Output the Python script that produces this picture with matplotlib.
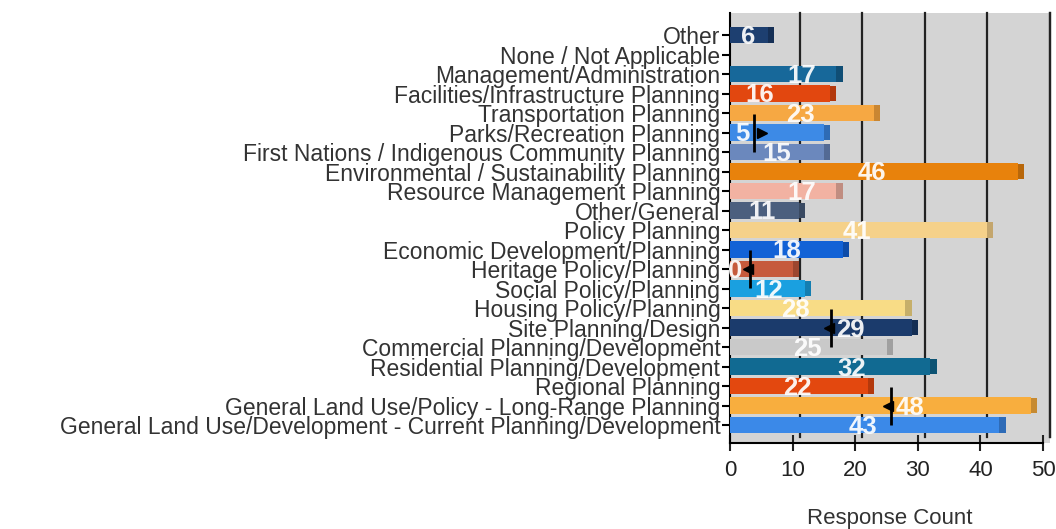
import matplotlib.pyplot as plt
import matplotlib.transforms as mtransforms

plt.rcParams["font.family"] = ["Liberation Sans", "DejaVu Sans"]

# top to bottom as in the picture
categories = [
    "Other",
    "None / Not Applicable",
    "Management/Administration",
    "Facilities/Infrastructure Planning",
    "Transportation Planning",
    "Parks/Recreation Planning",
    "First Nations / Indigenous Community Planning",
    "Environmental / Sustainability Planning",
    "Resource Management Planning",
    "Other/General",
    "Policy Planning",
    "Economic Development/Planning",
    "Heritage Policy/Planning",
    "Social Policy/Planning",
    "Housing Policy/Planning",
    "Site Planning/Design",
    "Commercial Planning/Development",
    "Residential Planning/Development",
    "Regional Planning",
    "General Land Use/Policy - Long-Range Planning",
    "General Land Use/Development - Current Planning/Development",
]
counts = [6, 0, 17, 16, 23, 15, 15, 46, 17, 11, 41, 18, 10, 12, 28, 29, 25, 32, 22, 48, 43]
# labels as they show up (the leading "1" of 15 and 10 is hidden behind the axis)
shown_labels = ["6", "", "17", "16", "23", "5", "15", "46", "17", "11", "41", "18",
                "0", "12", "28", "29", "25", "32", "22", "48", "43"]
label_x = [2.9, 0, 11.5, 4.8, 11.2, 1.9, 7.5, 22.7, 11.5, 5.1, 20.3, 9.1,
           0.8, 6.1, 10.4, 19.2, 12.3, 19.5, 10.7, 28.7, 21.3]
colors = ["#1d3f70", "#1d3f70", "#17689a", "#e2470f", "#f6a843", "#3d8ae6",
          "#6b88bd", "#e8820c", "#f2b2a2", "#4b5f7e", "#f5d18a", "#1262d6",
          "#c65a3c", "#1aa0e0", "#f8dc86", "#1b3b6c", "#c9c9c9", "#116a92",
          "#e3480f", "#f8ae3e", "#3b89e8"]
caps = ["#152f55", "#152f55", "#104e75", "#b2380c", "#c98632", "#2e6bb5",
        "#536a94", "#b8670a", "#c08d81", "#3a4a62", "#c4a66d", "#0e4ca8",
        "#9c462f", "#147eb1", "#c6af6a", "#142e54", "#a0a0a0", "#0d5373",
        "#b3390c", "#c68a31", "#2e6bb7"]

# error markers: (row, x, arrow direction)
markers = [("Parks/Recreation Planning", 3.9, ">"),
           ("Heritage Policy/Planning", 3.2, "<"),
           ("Site Planning/Design", 16.2, "<"),
           ("General Land Use/Policy - Long-Range Planning", 25.7, "<")]

n = len(categories)
ypos = [n - 1 - i for i in range(n)]

fig = plt.figure(figsize=(10.56, 5.29), dpi=100)
ax = fig.add_axes([730 / 1056, 1 - 443 / 529, 320 / 1056, 430 / 529])
ax.set_facecolor("#d4d4d4")
ax.set_xlim(0, 51.1)
ax.set_ylim(-0.92, n - 1 + 1.13)

# back-wall gridlines, shifted for the 3D look
shift = mtransforms.offset_copy(ax.transData, fig=fig, x=7, y=0, units="dots")
for gx in [10, 20, 30, 40, 50]:
    ax.plot([gx, gx], [-0.6, n - 1 + 1.13], color="#222222", lw=1.6,
            transform=shift, zorder=1, clip_on=False)

ax.barh(ypos, counts, height=0.86, color=colors, zorder=3)
ax.barh(ypos, [1.0 if c > 0 else 0 for c in counts], left=counts, height=0.78,
        color=caps, zorder=3)

for y, lab, lx in zip(ypos, shown_labels, label_x):
    if lab:
        ax.text(lx, y - 0.1, lab, color="white", fontsize=18.5, fontweight="bold",
                ha="center", va="center", zorder=5, alpha=0.92)

for name, mx, arrow in markers:
    my = ypos[categories.index(name)]
    ax.plot(mx, my, marker="|", markersize=28, mew=2, color="black", zorder=6)
    ax.plot(mx + (1.2 if arrow == ">" else -0.4), my, marker=arrow, markersize=7,
            color="black", zorder=6)

ax.set_yticks(ypos)
ax.set_yticklabels(categories, fontsize=16.5, color="#333333")
ax.set_xticks([0, 10, 20, 30, 40, 50])
ax.tick_params(axis="x", direction="inout", length=12, width=1.5, labelsize=16,
               colors="#222222", pad=6)
ax.tick_params(axis="y", direction="out", length=6, width=1.5, pad=1)
ax.set_xlabel("Response Count", fontsize=16, color="#333333", labelpad=20)

ax.spines["top"].set_visible(False)
ax.spines["right"].set_color("#222222")
ax.spines["right"].set_linewidth(1.6)
ax.spines["right"].set_bounds(-0.6, n - 1 + 1.13)
ax.spines["left"].set_linewidth(1.5)
ax.spines["bottom"].set_linewidth(1.5)
ax.spines["bottom"].set_bounds(0, 50)

fig.savefig("out.png", dpi=100)
